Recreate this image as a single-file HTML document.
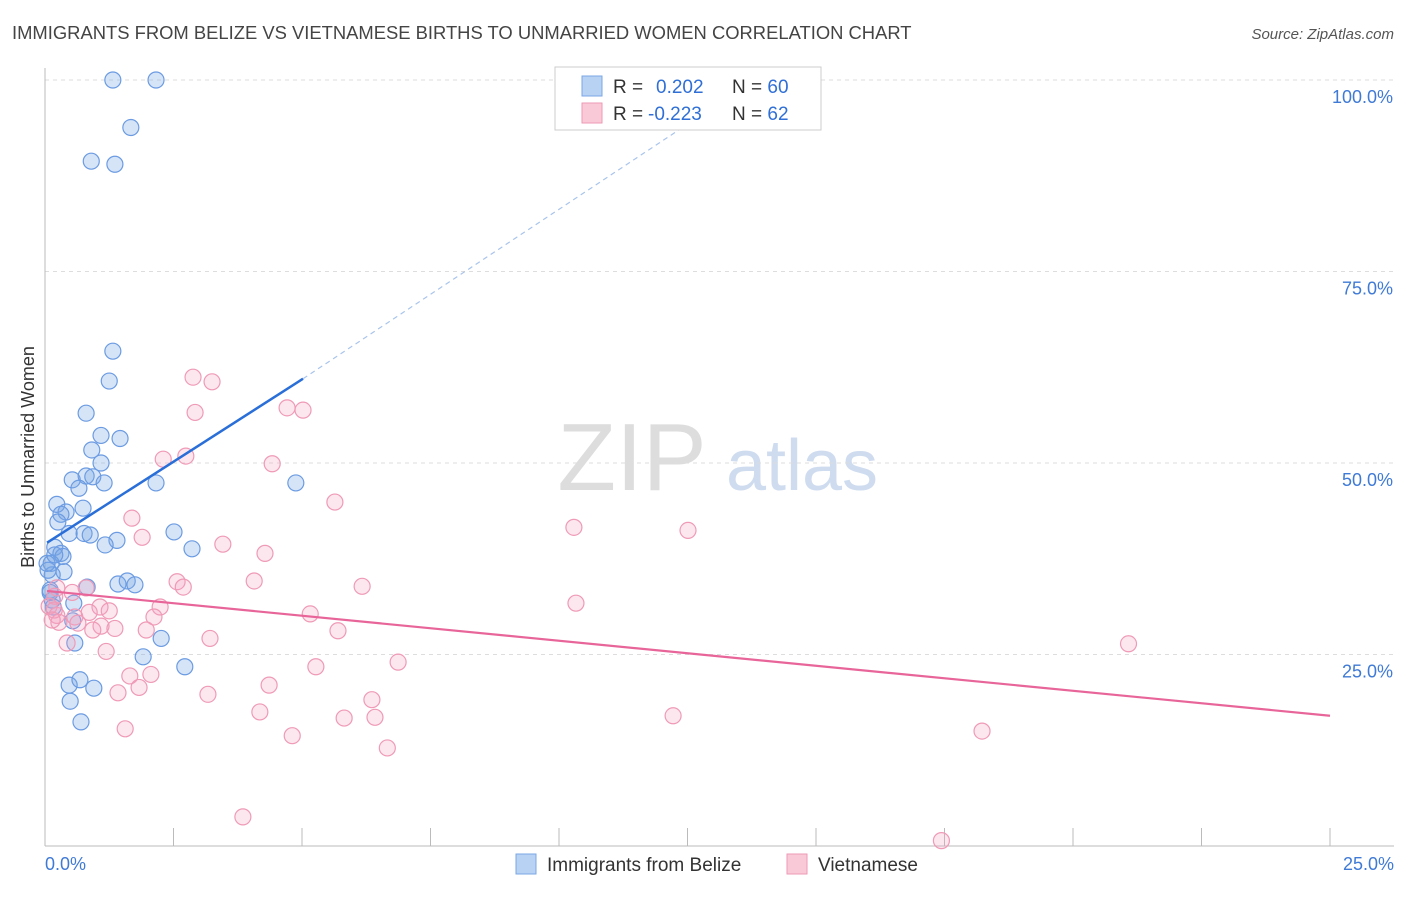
<!DOCTYPE html>
<html><head><meta charset="utf-8"><style>
body{margin:0;background:#fff;font-family:"Liberation Sans",sans-serif;}
svg text{font-family:"Liberation Sans",sans-serif;}
</style></head><body>
<svg id="chart" width="1406" height="892" xmlns="http://www.w3.org/2000/svg">
<text x="12" y="39" font-size="18.4" fill="#444">IMMIGRANTS FROM BELIZE VS VIETNAMESE BIRTHS TO UNMARRIED WOMEN CORRELATION CHART</text>
<text x="1394" y="39" font-size="15" fill="#555" text-anchor="end" font-style="italic">Source: ZipAtlas.com</text>
<g>
<text x="632" y="490" font-size="96" fill="#ddd" font-family="Liberation Serif" text-anchor="middle">ZIP</text>
<text x="802" y="490" font-size="72" fill="#cfdcef" text-anchor="middle">atlas</text>
</g>
<g id="grid"></g><g id="axes"></g><g id="marks"></g>
<text transform="translate(34,457) rotate(-90)" font-size="18" fill="#333" text-anchor="middle">Births to Unmarried Women</text>
<g>
<rect x="555" y="67" width="266" height="63" fill="#fff" stroke="#ccc"/>
<rect x="582" y="76" width="20" height="20" fill="#b8d2f4" stroke="#7aa7e6"/>
<rect x="582" y="103" width="20" height="20" fill="#f9c9d8" stroke="#ee9ab5"/>
<text x="613" y="93" font-size="19" fill="#333">R = <tspan fill="#2f6fd6" x="656">0.202</tspan><tspan x="732" fill="#333">N = </tspan><tspan fill="#2f6fd6">60</tspan></text>
<text x="613" y="120" font-size="19" fill="#333">R = <tspan fill="#2f6fd6" x="648">-0.223</tspan><tspan x="732" fill="#333">N = </tspan><tspan fill="#2f6fd6">62</tspan></text>
</g>
<g>
<rect x="516" y="854" width="20" height="20" fill="#b8d2f4" stroke="#7aa7e6"/>
<text x="547" y="871" font-size="19" fill="#333">Immigrants from Belize</text>
<rect x="787" y="854" width="20" height="20" fill="#f9c9d8" stroke="#ee9ab5"/>
<text x="818" y="871" font-size="19" fill="#333">Vietnamese</text>
</g>
</svg>
<script>
const blueX=[1.32,2.16,1.67,0.90,1.36,1.32,1.25,0.80,1.09,1.46,0.91,1.09,0.53,0.80,0.93,1.15,2.16,4.88,0.66,0.23,0.41,0.74,0.31,0.25,0.47,0.76,0.88,1.40,1.17,2.86,2.51,0.19,0.31,0.35,0.12,0.37,0.14,1.42,1.60,1.75,0.82,0.10,0.14,0.56,0.16,0.54,2.26,0.58,1.91,2.72,0.47,0.68,0.95,0.49,0.70,0.06,0.10,0.04,0.19];
const blueY=[100,100,93.8,89.4,89.0,64.6,60.7,56.5,53.6,53.2,51.7,50.0,47.8,48.3,48.2,47.4,47.4,47.4,46.7,44.6,43.6,44.1,43.3,42.3,40.8,40.8,40.6,39.9,39.3,38.8,41.0,39.0,38.2,37.8,36.9,35.8,35.4,34.2,34.6,34.1,33.8,33.4,32.1,31.7,31.2,29.4,27.1,26.5,24.7,23.4,21.0,21.7,20.6,18.9,16.2,36.0,33.1,36.9,38.0];
const pinkX=[2.88,3.25,2.92,4.71,5.02,2.30,2.74,4.42,5.64,1.69,10.29,12.51,1.89,3.46,4.28,2.57,2.69,4.07,6.17,0.23,0.19,0.53,0.80,0.08,2.24,2.12,1.07,1.25,0.86,0.23,0.58,0.27,0.64,1.09,1.36,0.93,1.97,5.16,5.70,10.33,3.21,0.43,1.19,21.08,6.87,5.27,1.65,2.06,1.83,4.36,1.42,3.17,6.36,4.18,5.82,6.42,12.22,1.56,4.81,18.23,6.66,3.85,17.44,0.18,0.14];
const pinkY=[61.2,60.6,56.6,57.2,56.9,50.5,50.9,49.9,44.9,42.8,41.6,41.2,40.3,39.4,38.2,34.5,33.8,34.6,33.9,33.7,32.6,33.1,33.7,31.3,31.2,29.9,31.2,30.7,30.5,30.1,29.9,29.2,29.1,28.7,28.4,28.2,28.2,30.3,28.1,31.7,27.1,26.5,25.4,26.4,24.0,23.4,22.2,22.4,20.7,21.0,20.0,19.8,19.1,17.5,16.7,16.8,17.0,15.3,14.4,15.0,12.8,3.8,0.7,30.8,29.5];
const blueLine=[0.04,39.6,5.02,61.0];
const blueDash=[5.02,61.0,13.8,100.0];
const pinkLine=[0.04,33.3,25,17.0];
const yTicks=[25,50,75,100];
const yTickLabels=["25.0%","50.0%","75.0%","100.0%"];
const xTicks=[2.5,5,7.5,10,12.5,15,17.5,20,22.5,25];
const NS="http://www.w3.org/2000/svg";
const sx=v=>45+v*51.4, sy=v=>846-v*7.66;
function mk(t,a,p){const e=document.createElementNS(NS,t);for(const k in a)e.setAttribute(k,a[k]);p.appendChild(e);return e;}
const grid=document.getElementById('grid'),axes=document.getElementById('axes'),marks=document.getElementById('marks');
yTicks.forEach((v,i)=>{
 const l=mk('line',{x1:45,x2:1394,y1:sy(v),y2:sy(v),stroke:'#ddd','stroke-dasharray':'4,4'},grid);
 
 
 const t=mk('text',{x:1393,y:sy(v)+23,'font-size':18,fill:'#3f7ad6','text-anchor':'end'},axes);t.textContent=yTickLabels[i];
 
 
});
const ya=mk('line',{x1:45,x2:45,y1:68,y2:846,stroke:'#bbb'},axes);


const xa=mk('line',{x1:45,x2:1394,y1:846,y2:846,stroke:'#bbb'},axes);


xTicks.forEach(v=>{const l=mk('line',{x1:sx(v),x2:sx(v),y1:828,y2:846,stroke:'#bbb'},axes);
 
 });
[[0,"0.0%",'start',45],[25,"25.0%",'end',1394]].forEach(d=>{const t=mk('text',{x:d[3],y:870,'font-size':18,fill:'#3f7ad6','text-anchor':d[2]},axes);t.textContent=d[1];
 
 });
blueX.forEach((x,i)=>{const c=mk('circle',{cx:sx(x),cy:sy(blueY[i]),r:8,fill:'rgba(120,165,230,0.3)',stroke:'#6b9be2','stroke-width':1.2},marks);
 
 });
pinkX.forEach((x,i)=>{const c=mk('circle',{cx:sx(x),cy:sy(pinkY[i]),r:8,fill:'rgba(245,160,190,0.25)',stroke:'#ef9ab6','stroke-width':1.2},marks);
 
 });
const b=mk('line',{x1:sx(blueLine[0]),y1:sy(blueLine[1]),x2:sx(blueLine[2]),y2:sy(blueLine[3]),stroke:'#2a6fd8','stroke-width':2.5},marks);


const bd=mk('line',{x1:sx(blueDash[0]),y1:sy(blueDash[1]),x2:sx(blueDash[2]),y2:sy(blueDash[3]),stroke:'#a9c4ec','stroke-width':1.2,'stroke-dasharray':'5,4'},marks);


const p=mk('line',{x1:sx(pinkLine[0]),y1:sy(pinkLine[1]),x2:sx(pinkLine[2]),y2:sy(pinkLine[3]),stroke:'#e8659a','stroke-width':2.2},marks);


</script>
</body></html>
